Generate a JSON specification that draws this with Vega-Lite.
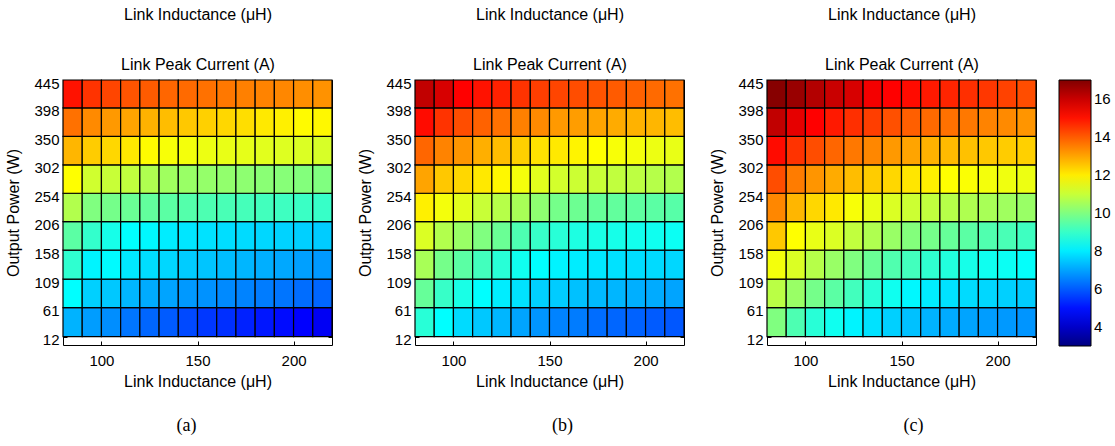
{
"$schema": "https://vega.github.io/schema/vega-lite/v6.json",
"background": "white",
"padding": {"left": 5, "top": 6, "right": 0, "bottom": 0},
"bounds": "flush",
"spacing": 83,
"config": {
  "view": {"stroke": null},
  "axis": {"labelFont": "Liberation Sans", "titleFont": "Liberation Sans", "labelFontSize": 15, "titleFontSize": 16, "titleFontWeight": "normal", "labelColor": "black", "titleColor": "black", "domainColor": "black", "tickColor": "black", "grid": false, "labelFlush": false, "labelOverlap": false}
},
"datasets": {
  "ybounds": [{"y":12,"y2":61},{"y":61,"y2":109},{"y":109,"y2":158},{"y":158,"y2":206},{"y":206,"y2":254},{"y":254,"y2":302},{"y":302,"y2":350},{"y":350,"y2":398},{"y":398,"y2":445}],
  "xbounds": [{"x":80,"x2":90},{"x":90,"x2":100},{"x":100,"x2":110},{"x":110,"x2":120},{"x":120,"x2":130},{"x":130,"x2":140},{"x":140,"x2":150},{"x":150,"x2":160},{"x":160,"x2":170},{"x":170,"x2":180},{"x":180,"x2":190},{"x":190,"x2":200},{"x":200,"x2":210},{"x":210,"x2":220}],
  "cells": [
{"p":"a","x":80,"y":12,"v":7.2},{"p":"a","x":90,"y":12,"v":6.9},{"p":"a","x":100,"y":12,"v":6.7},{"p":"a","x":110,"y":12,"v":6.35},{"p":"a","x":120,"y":12,"v":6.15},{"p":"a","x":130,"y":12,"v":6.0},{"p":"a","x":140,"y":12,"v":5.75},{"p":"a","x":150,"y":12,"v":5.5},{"p":"a","x":160,"y":12,"v":5.4},{"p":"a","x":170,"y":12,"v":5.2},{"p":"a","x":180,"y":12,"v":5.05},{"p":"a","x":190,"y":12,"v":4.9},{"p":"a","x":200,"y":12,"v":4.75},{"p":"a","x":210,"y":12,"v":4.6},
{"p":"a","x":80,"y":61,"v":8.25},{"p":"a","x":90,"y":61,"v":7.6},{"p":"a","x":100,"y":61,"v":7.5},{"p":"a","x":110,"y":61,"v":7.25},{"p":"a","x":120,"y":61,"v":7.1},{"p":"a","x":130,"y":61,"v":7.0},{"p":"a","x":140,"y":61,"v":6.85},{"p":"a","x":150,"y":61,"v":6.75},{"p":"a","x":160,"y":61,"v":6.65},{"p":"a","x":170,"y":61,"v":6.55},{"p":"a","x":180,"y":61,"v":6.45},{"p":"a","x":190,"y":61,"v":6.35},{"p":"a","x":200,"y":61,"v":6.25},{"p":"a","x":210,"y":61,"v":6.15},
{"p":"a","x":80,"y":109,"v":8.9},{"p":"a","x":90,"y":109,"v":8.1},{"p":"a","x":100,"y":109,"v":8.2},{"p":"a","x":110,"y":109,"v":7.95},{"p":"a","x":120,"y":109,"v":7.8},{"p":"a","x":130,"y":109,"v":7.7},{"p":"a","x":140,"y":109,"v":7.55},{"p":"a","x":150,"y":109,"v":7.45},{"p":"a","x":160,"y":109,"v":7.35},{"p":"a","x":170,"y":109,"v":7.25},{"p":"a","x":180,"y":109,"v":7.15},{"p":"a","x":190,"y":109,"v":7.05},{"p":"a","x":200,"y":109,"v":6.95},{"p":"a","x":210,"y":109,"v":6.85},
{"p":"a","x":80,"y":158,"v":9.5},{"p":"a","x":90,"y":158,"v":8.95},{"p":"a","x":100,"y":158,"v":8.55},{"p":"a","x":110,"y":158,"v":8.25},{"p":"a","x":120,"y":158,"v":8.15},{"p":"a","x":130,"y":158,"v":8.0},{"p":"a","x":140,"y":158,"v":7.9},{"p":"a","x":150,"y":158,"v":7.85},{"p":"a","x":160,"y":158,"v":7.8},{"p":"a","x":170,"y":158,"v":7.75},{"p":"a","x":180,"y":158,"v":7.7},{"p":"a","x":190,"y":158,"v":7.65},{"p":"a","x":200,"y":158,"v":7.6},{"p":"a","x":210,"y":158,"v":7.55},
{"p":"a","x":80,"y":206,"v":10.7},{"p":"a","x":90,"y":206,"v":10.0},{"p":"a","x":100,"y":206,"v":9.85},{"p":"a","x":110,"y":206,"v":9.7},{"p":"a","x":120,"y":206,"v":9.6},{"p":"a","x":130,"y":206,"v":9.5},{"p":"a","x":140,"y":206,"v":9.4},{"p":"a","x":150,"y":206,"v":9.3},{"p":"a","x":160,"y":206,"v":9.25},{"p":"a","x":170,"y":206,"v":9.2},{"p":"a","x":180,"y":206,"v":9.15},{"p":"a","x":190,"y":206,"v":9.1},{"p":"a","x":200,"y":206,"v":9.05},{"p":"a","x":210,"y":206,"v":9.0},
{"p":"a","x":80,"y":254,"v":11.75},{"p":"a","x":90,"y":254,"v":11.1},{"p":"a","x":100,"y":254,"v":11.0},{"p":"a","x":110,"y":254,"v":10.9},{"p":"a","x":120,"y":254,"v":10.65},{"p":"a","x":130,"y":254,"v":10.45},{"p":"a","x":140,"y":254,"v":10.35},{"p":"a","x":150,"y":254,"v":10.3},{"p":"a","x":160,"y":254,"v":10.25},{"p":"a","x":170,"y":254,"v":10.2},{"p":"a","x":180,"y":254,"v":10.15},{"p":"a","x":190,"y":254,"v":10.1},{"p":"a","x":200,"y":254,"v":10.05},{"p":"a","x":210,"y":254,"v":10.0},
{"p":"a","x":80,"y":302,"v":12.75},{"p":"a","x":90,"y":302,"v":12.45},{"p":"a","x":100,"y":302,"v":12.3},{"p":"a","x":110,"y":302,"v":12.05},{"p":"a","x":120,"y":302,"v":11.8},{"p":"a","x":130,"y":302,"v":11.65},{"p":"a","x":140,"y":302,"v":11.6},{"p":"a","x":150,"y":302,"v":11.5},{"p":"a","x":160,"y":302,"v":11.45},{"p":"a","x":170,"y":302,"v":11.4},{"p":"a","x":180,"y":302,"v":11.35},{"p":"a","x":190,"y":302,"v":11.3},{"p":"a","x":200,"y":302,"v":11.25},{"p":"a","x":210,"y":302,"v":11.2},
{"p":"a","x":80,"y":350,"v":13.7},{"p":"a","x":90,"y":350,"v":13.35},{"p":"a","x":100,"y":350,"v":13.15},{"p":"a","x":110,"y":350,"v":13.0},{"p":"a","x":120,"y":350,"v":12.8},{"p":"a","x":130,"y":350,"v":12.65},{"p":"a","x":140,"y":350,"v":12.5},{"p":"a","x":150,"y":350,"v":12.4},{"p":"a","x":160,"y":350,"v":12.3},{"p":"a","x":170,"y":350,"v":12.2},{"p":"a","x":180,"y":350,"v":12.05},{"p":"a","x":190,"y":350,"v":11.95},{"p":"a","x":200,"y":350,"v":11.8},{"p":"a","x":210,"y":350,"v":11.85},
{"p":"a","x":80,"y":398,"v":15.0},{"p":"a","x":90,"y":398,"v":14.55},{"p":"a","x":100,"y":398,"v":14.3},{"p":"a","x":110,"y":398,"v":14.1},{"p":"a","x":120,"y":398,"v":14.0},{"p":"a","x":130,"y":398,"v":13.85},{"p":"a","x":140,"y":398,"v":13.8},{"p":"a","x":150,"y":398,"v":13.7},{"p":"a","x":160,"y":398,"v":13.6},{"p":"a","x":170,"y":398,"v":13.5},{"p":"a","x":180,"y":398,"v":13.45},{"p":"a","x":190,"y":398,"v":13.4},{"p":"a","x":200,"y":398,"v":13.3},{"p":"a","x":210,"y":398,"v":13.25},
{"p":"b","x":80,"y":12,"v":8.8},{"p":"b","x":90,"y":12,"v":8.25},{"p":"b","x":100,"y":12,"v":7.75},{"p":"b","x":110,"y":12,"v":7.5},{"p":"b","x":120,"y":12,"v":7.25},{"p":"b","x":130,"y":12,"v":7.0},{"p":"b","x":140,"y":12,"v":6.8},{"p":"b","x":150,"y":12,"v":6.55},{"p":"b","x":160,"y":12,"v":6.45},{"p":"b","x":170,"y":12,"v":6.25},{"p":"b","x":180,"y":12,"v":6.15},{"p":"b","x":190,"y":12,"v":6.1},{"p":"b","x":200,"y":12,"v":6.0},{"p":"b","x":210,"y":12,"v":5.95},
{"p":"b","x":80,"y":61,"v":9.65},{"p":"b","x":90,"y":61,"v":9.0},{"p":"b","x":100,"y":61,"v":8.6},{"p":"b","x":110,"y":61,"v":8.25},{"p":"b","x":120,"y":61,"v":8.0},{"p":"b","x":130,"y":61,"v":7.85},{"p":"b","x":140,"y":61,"v":7.6},{"p":"b","x":150,"y":61,"v":7.55},{"p":"b","x":160,"y":61,"v":7.4},{"p":"b","x":170,"y":61,"v":7.3},{"p":"b","x":180,"y":61,"v":7.25},{"p":"b","x":190,"y":61,"v":7.15},{"p":"b","x":200,"y":61,"v":7.1},{"p":"b","x":210,"y":61,"v":7.0},
{"p":"b","x":80,"y":109,"v":10.55},{"p":"b","x":90,"y":109,"v":9.85},{"p":"b","x":100,"y":109,"v":9.5},{"p":"b","x":110,"y":109,"v":9.15},{"p":"b","x":120,"y":109,"v":8.8},{"p":"b","x":130,"y":109,"v":8.45},{"p":"b","x":140,"y":109,"v":8.25},{"p":"b","x":150,"y":109,"v":8.1},{"p":"b","x":160,"y":109,"v":8.0},{"p":"b","x":170,"y":109,"v":7.95},{"p":"b","x":180,"y":109,"v":7.85},{"p":"b","x":190,"y":109,"v":7.8},{"p":"b","x":200,"y":109,"v":7.75},{"p":"b","x":210,"y":109,"v":7.7},
{"p":"b","x":80,"y":158,"v":11.25},{"p":"b","x":90,"y":158,"v":10.7},{"p":"b","x":100,"y":158,"v":10.35},{"p":"b","x":110,"y":158,"v":10.0},{"p":"b","x":120,"y":158,"v":9.7},{"p":"b","x":130,"y":158,"v":9.3},{"p":"b","x":140,"y":158,"v":9.0},{"p":"b","x":150,"y":158,"v":8.8},{"p":"b","x":160,"y":158,"v":8.65},{"p":"b","x":170,"y":158,"v":8.6},{"p":"b","x":180,"y":158,"v":8.55},{"p":"b","x":190,"y":158,"v":8.5},{"p":"b","x":200,"y":158,"v":8.45},{"p":"b","x":210,"y":158,"v":8.4},
{"p":"b","x":80,"y":206,"v":11.95},{"p":"b","x":90,"y":206,"v":11.6},{"p":"b","x":100,"y":206,"v":11.35},{"p":"b","x":110,"y":206,"v":11.0},{"p":"b","x":120,"y":206,"v":10.75},{"p":"b","x":130,"y":206,"v":10.55},{"p":"b","x":140,"y":206,"v":10.2},{"p":"b","x":150,"y":206,"v":9.85},{"p":"b","x":160,"y":206,"v":9.75},{"p":"b","x":170,"y":206,"v":9.65},{"p":"b","x":180,"y":206,"v":9.6},{"p":"b","x":190,"y":206,"v":9.55},{"p":"b","x":200,"y":206,"v":9.5},{"p":"b","x":210,"y":206,"v":9.45},
{"p":"b","x":80,"y":254,"v":13.0},{"p":"b","x":90,"y":254,"v":12.5},{"p":"b","x":100,"y":254,"v":12.3},{"p":"b","x":110,"y":254,"v":12.05},{"p":"b","x":120,"y":254,"v":11.85},{"p":"b","x":130,"y":254,"v":11.6},{"p":"b","x":140,"y":254,"v":11.35},{"p":"b","x":150,"y":254,"v":11.15},{"p":"b","x":160,"y":254,"v":11.05},{"p":"b","x":170,"y":254,"v":11.0},{"p":"b","x":180,"y":254,"v":10.9},{"p":"b","x":190,"y":254,"v":10.85},{"p":"b","x":200,"y":254,"v":10.75},{"p":"b","x":210,"y":254,"v":10.7},
{"p":"b","x":80,"y":302,"v":13.85},{"p":"b","x":90,"y":302,"v":13.45},{"p":"b","x":100,"y":302,"v":13.2},{"p":"b","x":110,"y":302,"v":12.85},{"p":"b","x":120,"y":302,"v":12.65},{"p":"b","x":130,"y":302,"v":12.4},{"p":"b","x":140,"y":302,"v":12.15},{"p":"b","x":150,"y":302,"v":12.05},{"p":"b","x":160,"y":302,"v":11.9},{"p":"b","x":170,"y":302,"v":11.75},{"p":"b","x":180,"y":302,"v":11.65},{"p":"b","x":190,"y":302,"v":11.6},{"p":"b","x":200,"y":302,"v":11.5},{"p":"b","x":210,"y":302,"v":11.45},
{"p":"b","x":80,"y":350,"v":15.1},{"p":"b","x":90,"y":350,"v":14.55},{"p":"b","x":100,"y":350,"v":14.2},{"p":"b","x":110,"y":350,"v":13.9},{"p":"b","x":120,"y":350,"v":13.7},{"p":"b","x":130,"y":350,"v":13.5},{"p":"b","x":140,"y":350,"v":13.35},{"p":"b","x":150,"y":350,"v":13.15},{"p":"b","x":160,"y":350,"v":13.1},{"p":"b","x":170,"y":350,"v":13.0},{"p":"b","x":180,"y":350,"v":12.9},{"p":"b","x":190,"y":350,"v":12.8},{"p":"b","x":200,"y":350,"v":12.75},{"p":"b","x":210,"y":350,"v":12.65},
{"p":"b","x":80,"y":398,"v":16.1},{"p":"b","x":90,"y":398,"v":15.8},{"p":"b","x":100,"y":398,"v":15.25},{"p":"b","x":110,"y":398,"v":15.0},{"p":"b","x":120,"y":398,"v":14.8},{"p":"b","x":130,"y":398,"v":14.55},{"p":"b","x":140,"y":398,"v":14.4},{"p":"b","x":150,"y":398,"v":14.3},{"p":"b","x":160,"y":398,"v":14.2},{"p":"b","x":170,"y":398,"v":14.1},{"p":"b","x":180,"y":398,"v":14.0},{"p":"b","x":190,"y":398,"v":13.9},{"p":"b","x":200,"y":398,"v":13.8},{"p":"b","x":210,"y":398,"v":13.7},
{"p":"c","x":80,"y":12,"v":10.0},{"p":"c","x":90,"y":12,"v":9.3},{"p":"c","x":100,"y":12,"v":8.8},{"p":"c","x":110,"y":12,"v":8.45},{"p":"c","x":120,"y":12,"v":8.1},{"p":"c","x":130,"y":12,"v":7.85},{"p":"c","x":140,"y":12,"v":7.6},{"p":"c","x":150,"y":12,"v":7.4},{"p":"c","x":160,"y":12,"v":7.2},{"p":"c","x":170,"y":12,"v":7.1},{"p":"c","x":180,"y":12,"v":7.0},{"p":"c","x":190,"y":12,"v":6.9},{"p":"c","x":200,"y":12,"v":6.85},{"p":"c","x":210,"y":12,"v":6.8},
{"p":"c","x":80,"y":61,"v":10.8},{"p":"c","x":90,"y":61,"v":10.35},{"p":"c","x":100,"y":61,"v":9.85},{"p":"c","x":110,"y":61,"v":9.5},{"p":"c","x":120,"y":61,"v":9.15},{"p":"c","x":130,"y":61,"v":8.8},{"p":"c","x":140,"y":61,"v":8.45},{"p":"c","x":150,"y":61,"v":8.15},{"p":"c","x":160,"y":61,"v":8.0},{"p":"c","x":170,"y":61,"v":7.85},{"p":"c","x":180,"y":61,"v":7.75},{"p":"c","x":190,"y":61,"v":7.7},{"p":"c","x":200,"y":61,"v":7.6},{"p":"c","x":210,"y":61,"v":7.55},
{"p":"c","x":80,"y":109,"v":11.6},{"p":"c","x":90,"y":109,"v":11.25},{"p":"c","x":100,"y":109,"v":10.75},{"p":"c","x":110,"y":109,"v":10.35},{"p":"c","x":120,"y":109,"v":10.0},{"p":"c","x":130,"y":109,"v":9.7},{"p":"c","x":140,"y":109,"v":9.35},{"p":"c","x":150,"y":109,"v":9.15},{"p":"c","x":160,"y":109,"v":8.9},{"p":"c","x":170,"y":109,"v":8.7},{"p":"c","x":180,"y":109,"v":8.55},{"p":"c","x":190,"y":109,"v":8.45},{"p":"c","x":200,"y":109,"v":8.4},{"p":"c","x":210,"y":109,"v":8.3},
{"p":"c","x":80,"y":158,"v":12.5},{"p":"c","x":90,"y":158,"v":11.75},{"p":"c","x":100,"y":158,"v":11.45},{"p":"c","x":110,"y":158,"v":11.25},{"p":"c","x":120,"y":158,"v":10.9},{"p":"c","x":130,"y":158,"v":10.65},{"p":"c","x":140,"y":158,"v":10.35},{"p":"c","x":150,"y":158,"v":10.05},{"p":"c","x":160,"y":158,"v":9.85},{"p":"c","x":170,"y":158,"v":9.65},{"p":"c","x":180,"y":158,"v":9.5},{"p":"c","x":190,"y":158,"v":9.35},{"p":"c","x":200,"y":158,"v":9.25},{"p":"c","x":210,"y":158,"v":9.1},
{"p":"c","x":80,"y":206,"v":13.4},{"p":"c","x":90,"y":206,"v":12.75},{"p":"c","x":100,"y":206,"v":12.3},{"p":"c","x":110,"y":206,"v":12.05},{"p":"c","x":120,"y":206,"v":11.65},{"p":"c","x":130,"y":206,"v":11.45},{"p":"c","x":140,"y":206,"v":11.25},{"p":"c","x":150,"y":206,"v":11.05},{"p":"c","x":160,"y":206,"v":10.9},{"p":"c","x":170,"y":206,"v":10.75},{"p":"c","x":180,"y":206,"v":10.65},{"p":"c","x":190,"y":206,"v":10.55},{"p":"c","x":200,"y":206,"v":10.45},{"p":"c","x":210,"y":206,"v":10.35},
{"p":"c","x":80,"y":254,"v":14.2},{"p":"c","x":90,"y":254,"v":13.55},{"p":"c","x":100,"y":254,"v":13.2},{"p":"c","x":110,"y":254,"v":12.9},{"p":"c","x":120,"y":254,"v":12.65},{"p":"c","x":130,"y":254,"v":12.45},{"p":"c","x":140,"y":254,"v":12.3},{"p":"c","x":150,"y":254,"v":12.1},{"p":"c","x":160,"y":254,"v":11.95},{"p":"c","x":170,"y":254,"v":11.75},{"p":"c","x":180,"y":254,"v":11.7},{"p":"c","x":190,"y":254,"v":11.6},{"p":"c","x":200,"y":254,"v":11.55},{"p":"c","x":210,"y":254,"v":11.5},
{"p":"c","x":80,"y":302,"v":15.1},{"p":"c","x":90,"y":302,"v":14.55},{"p":"c","x":100,"y":302,"v":14.2},{"p":"c","x":110,"y":302,"v":13.85},{"p":"c","x":120,"y":302,"v":13.6},{"p":"c","x":130,"y":302,"v":13.4},{"p":"c","x":140,"y":302,"v":13.15},{"p":"c","x":150,"y":302,"v":13.0},{"p":"c","x":160,"y":302,"v":12.8},{"p":"c","x":170,"y":302,"v":12.7},{"p":"c","x":180,"y":302,"v":12.6},{"p":"c","x":190,"y":302,"v":12.5},{"p":"c","x":200,"y":302,"v":12.45},{"p":"c","x":210,"y":302,"v":12.4},
{"p":"c","x":80,"y":350,"v":16.1},{"p":"c","x":90,"y":350,"v":15.6},{"p":"c","x":100,"y":350,"v":15.25},{"p":"c","x":110,"y":350,"v":14.9},{"p":"c","x":120,"y":350,"v":14.6},{"p":"c","x":130,"y":350,"v":14.4},{"p":"c","x":140,"y":350,"v":14.15},{"p":"c","x":150,"y":350,"v":13.95},{"p":"c","x":160,"y":350,"v":13.8},{"p":"c","x":170,"y":350,"v":13.7},{"p":"c","x":180,"y":350,"v":13.6},{"p":"c","x":190,"y":350,"v":13.45},{"p":"c","x":200,"y":350,"v":13.35},{"p":"c","x":210,"y":350,"v":13.2},
{"p":"c","x":80,"y":398,"v":16.9},{"p":"c","x":90,"y":398,"v":16.65},{"p":"c","x":100,"y":398,"v":16.3},{"p":"c","x":110,"y":398,"v":16.0},{"p":"c","x":120,"y":398,"v":15.8},{"p":"c","x":130,"y":398,"v":15.4},{"p":"c","x":140,"y":398,"v":15.25},{"p":"c","x":150,"y":398,"v":15.1},{"p":"c","x":160,"y":398,"v":14.9},{"p":"c","x":170,"y":398,"v":14.75},{"p":"c","x":180,"y":398,"v":14.6},{"p":"c","x":190,"y":398,"v":14.5},{"p":"c","x":200,"y":398,"v":14.35},{"p":"c","x":210,"y":398,"v":14.2}
  ]
},
"data": {"name": "cells"},
"resolve": {"scale": {"color": "independent"}},
"hconcat": [
  {
    "width": 269, "height": 265,
    "title": {"text": "(a)", "orient": "bottom", "font": "Liberation Serif", "fontSize": 18, "fontWeight": "normal", "color": "black", "frame": "group", "anchor": "middle", "baseline": "top", "offset": 28, "dx": -11},
    "transform": [
      {"filter": "datum.p === 'a'"},
      {"lookup": "x", "from": {"data": {"name": "xbounds"}, "key": "x", "fields": ["x2"]}},
      {"lookup": "y", "from": {"data": {"name": "ybounds"}, "key": "y", "fields": ["y2"]}}
    ],
    "layer": [
      {
        "mark": {"type": "rect", "stroke": "black", "strokeWidth": 1.2},
        "encoding": {
          "x": {"field": "x", "type": "quantitative", "scale": {"domain": [80, 220], "nice": false, "zero": false}, "axis": {"orient": "bottom", "values": [100, 150, 200], "title": "Link Inductance (μH)", "tickSize": -4, "labelPadding": 12, "titlePadding": 5}},
          "x2": {"field": "x2"},
          "y": {"field": "y", "type": "quantitative", "scale": {"domain": [-2, 445], "nice": false, "zero": false}, "axis": {"orient": "left", "values": [12, 61, 109, 158, 206, 254, 302, 350, 398, 445], "title": "Output Power (W)", "tickSize": -4, "labelPadding": 8, "labelOffset": 3, "titlePadding": 12}},
          "y2": {"field": "y2"},
          "color": {"field": "v", "type": "quantitative", "scale": {"type": "linear", "domain": [3, 4.75, 8.25, 11.75, 15.25, 17], "range": ["#000080", "#0000ff", "#00ffff", "#ffff00", "#ff0000", "#800000"], "interpolate": "rgb"}, "legend": null}
        }
      },
      {
        "mark": {"type": "rect", "opacity": 0},
        "encoding": {
          "x": {"field": "x", "type": "quantitative", "axis": {"orient": "top", "labels": false, "ticks": false, "title": ["Link Inductance (μH)", "Link Peak Current (A)"], "titleLineHeight": 50, "titleBaseline": "bottom", "titlePadding": 8}},
          "y": {"field": "y", "type": "quantitative", "axis": {"orient": "right", "labels": false, "values": [12, 61, 109, 158, 206, 254, 302, 350, 398, 445], "tickSize": -4, "title": null}}
        }
      }
    ],
    "resolve": {"axis": {"x": "independent", "y": "independent"}}
  },
  {
    "width": 269, "height": 265,
    "title": {"text": "(b)", "orient": "bottom", "font": "Liberation Serif", "fontSize": 18, "fontWeight": "normal", "color": "black", "frame": "group", "anchor": "middle", "baseline": "top", "offset": 28, "dx": 13},
    "transform": [
      {"filter": "datum.p === 'b'"},
      {"lookup": "x", "from": {"data": {"name": "xbounds"}, "key": "x", "fields": ["x2"]}},
      {"lookup": "y", "from": {"data": {"name": "ybounds"}, "key": "y", "fields": ["y2"]}}
    ],
    "layer": [
      {
        "mark": {"type": "rect", "stroke": "black", "strokeWidth": 1.2},
        "encoding": {
          "x": {"field": "x", "type": "quantitative", "scale": {"domain": [80, 220], "nice": false, "zero": false}, "axis": {"orient": "bottom", "values": [100, 150, 200], "title": "Link Inductance (μH)", "tickSize": -4, "labelPadding": 12, "titlePadding": 5}},
          "x2": {"field": "x2"},
          "y": {"field": "y", "type": "quantitative", "scale": {"domain": [-2, 445], "nice": false, "zero": false}, "axis": {"orient": "left", "values": [12, 61, 109, 158, 206, 254, 302, 350, 398, 445], "title": "Output Power (W)", "tickSize": -4, "labelPadding": 8, "labelOffset": 3, "titlePadding": 12}},
          "y2": {"field": "y2"},
          "color": {"field": "v", "type": "quantitative", "scale": {"type": "linear", "domain": [3, 4.75, 8.25, 11.75, 15.25, 17], "range": ["#000080", "#0000ff", "#00ffff", "#ffff00", "#ff0000", "#800000"], "interpolate": "rgb"}, "legend": null}
        }
      },
      {
        "mark": {"type": "rect", "opacity": 0},
        "encoding": {
          "x": {"field": "x", "type": "quantitative", "axis": {"orient": "top", "labels": false, "ticks": false, "title": ["Link Inductance (μH)", "Link Peak Current (A)"], "titleLineHeight": 50, "titleBaseline": "bottom", "titlePadding": 8}},
          "y": {"field": "y", "type": "quantitative", "axis": {"orient": "right", "labels": false, "values": [12, 61, 109, 158, 206, 254, 302, 350, 398, 445], "tickSize": -4, "title": null}}
        }
      }
    ],
    "resolve": {"axis": {"x": "independent", "y": "independent"}}
  },
  {
    "width": 269, "height": 265,
    "title": {"text": "(c)", "orient": "bottom", "font": "Liberation Serif", "fontSize": 18, "fontWeight": "normal", "color": "black", "frame": "group", "anchor": "middle", "baseline": "top", "offset": 28, "dx": 12},
    "transform": [
      {"filter": "datum.p === 'c'"},
      {"lookup": "x", "from": {"data": {"name": "xbounds"}, "key": "x", "fields": ["x2"]}},
      {"lookup": "y", "from": {"data": {"name": "ybounds"}, "key": "y", "fields": ["y2"]}}
    ],
    "layer": [
      {
        "mark": {"type": "rect", "stroke": "black", "strokeWidth": 1.2},
        "encoding": {
          "x": {"field": "x", "type": "quantitative", "scale": {"domain": [80, 220], "nice": false, "zero": false}, "axis": {"orient": "bottom", "values": [100, 150, 200], "title": "Link Inductance (μH)", "tickSize": -4, "labelPadding": 12, "titlePadding": 5}},
          "x2": {"field": "x2"},
          "y": {"field": "y", "type": "quantitative", "scale": {"domain": [-2, 445], "nice": false, "zero": false}, "axis": {"orient": "left", "values": [12, 61, 109, 158, 206, 254, 302, 350, 398, 445], "title": "Output Power (W)", "tickSize": -4, "labelPadding": 8, "labelOffset": 3, "titlePadding": 12}},
          "y2": {"field": "y2"},
          "color": {"field": "v", "type": "quantitative", "scale": {"type": "linear", "domain": [3, 4.75, 8.25, 11.75, 15.25, 17], "range": ["#000080", "#0000ff", "#00ffff", "#ffff00", "#ff0000", "#800000"], "interpolate": "rgb"}, "legend": {"type": "gradient", "direction": "vertical", "orient": "right", "title": null, "values": [4, 6, 8, 10, 12, 14, 16], "offset": 22, "padding": 0, "gradientLength": 266, "gradientThickness": 32, "gradientStrokeColor": "black", "gradientStrokeWidth": 1, "labelFont": "Liberation Sans", "labelFontSize": 15, "labelColor": "black", "labelOffset": 3, "labelOverlap": false}}
        }
      },
      {
        "mark": {"type": "rect", "opacity": 0},
        "encoding": {
          "x": {"field": "x", "type": "quantitative", "axis": {"orient": "top", "labels": false, "ticks": false, "title": ["Link Inductance (μH)", "Link Peak Current (A)"], "titleLineHeight": 50, "titleBaseline": "bottom", "titlePadding": 8}},
          "y": {"field": "y", "type": "quantitative", "axis": {"orient": "right", "labels": false, "values": [12, 61, 109, 158, 206, 254, 302, 350, 398, 445], "tickSize": -4, "title": null}}
        }
      }
    ],
    "resolve": {"axis": {"x": "independent", "y": "independent"}}
  }
]
}
